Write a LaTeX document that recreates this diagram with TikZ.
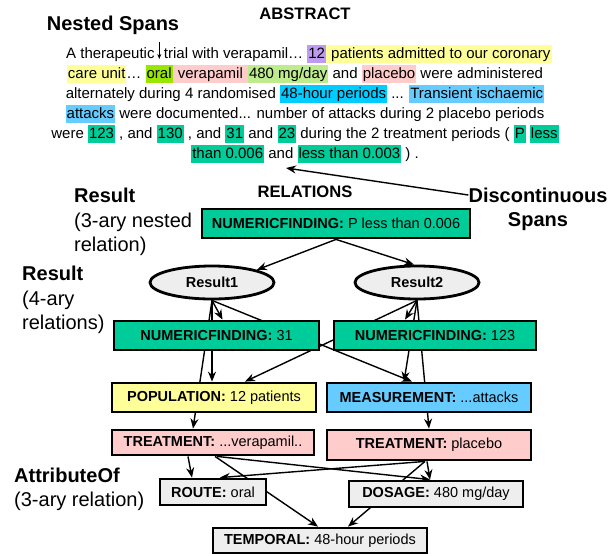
\documentclass[tikz,border=0pt]{standalone}
\usepackage{fontspec}
\setmainfont{Liberation Sans}
\usetikzlibrary{arrows.meta,calc,positioning,shapes.geometric,backgrounds}

\definecolor{hlpurple}{RGB}{190,155,240}
\definecolor{hlyellow}{RGB}{255,255,153}
\definecolor{hllime}{RGB}{153,230,0}
\definecolor{hlpink}{RGB}{255,204,204}
\definecolor{hlgreen}{RGB}{190,235,140}
\definecolor{hlcyan}{RGB}{0,204,255}
\definecolor{hlblue}{RGB}{102,204,255}
\definecolor{hlteal}{RGB}{0,204,153}
\definecolor{boxgray}{RGB}{238,238,238}

\newcommand{\hlspan}[2]{{\setlength{\fboxsep}{0pt}\colorbox{#1}{\hspace{1pt}\rule[-4.5pt]{0pt}{18pt}#2\hspace{1pt}}}}

\begin{document}
\begin{tikzpicture}[x=1pt,y=-1pt,>={Stealth[length=10pt,width=8pt]},
  abstxt/.style={inner sep=0pt,text height=13.5pt,text depth=4.5pt,font=\fontsize{15}{18}\selectfont},
  headlbl/.style={inner sep=0pt,font=\fontsize{16.6}{20}\selectfont\bfseries},
  spanlbl/.style={inner sep=0pt,font=\fontsize{20}{24}\selectfont\bfseries},
  sidelbl/.style={inner sep=0pt,align=left,font=\fontsize{20}{24.5}\selectfont},
  argbox/.style={draw,line width=2.8pt,inner sep=0pt,font=\fontsize{14.5}{17}\selectfont},
  relell/.style={draw,ellipse,line width=2.8pt,fill=boxgray,inner sep=0pt,minimum width=124pt,minimum height=33pt,font=\fontsize{14.5}{17}\selectfont\bfseries},
  link/.style={->,line width=1.4pt}]

\useasboundingbox (0,0) rectangle (615,555);

\node[headlbl] (abstract) at (305,14) {ABSTRACT};
\node[spanlbl] (nested) at (113,25) {Nested Spans};
\node[abstxt,anchor=west] (abs1a) at (66,54) {A therapeutic};
\node[abstxt,right=9pt of abs1a] (abs1b) {trial with verapamil… \hlspan{hlpurple}{12}\hlspan{hlyellow}{ patients admitted to our coronary}};
\node[abstxt] (abs2) at (305,74) {\hlspan{hlyellow}{care unit}… \hlspan{hllime}{oral}\hlspan{hlpink}{ verapamil }\hlspan{hlgreen}{480 mg/day} and \hlspan{hlpink}{placebo} were administered};
\node[abstxt] (abs3) at (305,94) {alternately during 4 randomised \hlspan{hlcyan}{48-hour periods} ... \hlspan{hlblue}{Transient ischaemic}};
\node[abstxt] (abs4) at (305,114) {\hlspan{hlblue}{attacks} were documented... number of attacks during 2 placebo periods};
\node[abstxt] (abs5) at (305,134) {were \hlspan{hlteal}{123} , and \hlspan{hlteal}{130} , and \hlspan{hlteal}{31} and \hlspan{hlteal}{23} during the 2 treatment periods ( \hlspan{hlteal}{P} \hlspan{hlteal}{less}};
\node[abstxt] (abs6) at (305,154) {\hlspan{hlteal}{than 0.006} and \hlspan{hlteal}{less than 0.003} ) .};

\path (abs1a.east) -- (abs1b.west) coordinate[pos=.5] (nestmid);
\coordinate (nesttop) at ([yshift=12pt]nestmid);
\coordinate (nesttip) at ([yshift=-5pt]nestmid);
\coordinate (disctip) at (286,168);

\node[headlbl] (relations) at (305,192) {RELATIONS};
\node[spanlbl] (disc1) at (538,195) {Discontinuous};
\node[spanlbl] (disc2) at (538,222) {Spans};

\node[sidelbl,anchor=west] (lblnested) at (74,222) {\textbf{Result}\\(3-ary nested\\relation)};
\node[sidelbl,anchor=west] (lblresult) at (22,300) {\textbf{Result}\\(4-ary\\relations)};
\node[sidelbl,anchor=west] (lblattr) at (14,489.5) {\textbf{AttributeOf}\\(3-ary relation)};

\node[argbox,fill=hlteal,minimum width=268pt,minimum height=29pt] (nftop) at (336,223.5) {\textbf{NUMERICFINDING:} P less than 0.006};
\node[relell] (res1) at (212,282.5) {Result1};
\node[relell] (res2) at (417,282.5) {Result2};
\node[argbox,fill=hlteal,minimum width=205pt,minimum height=29pt] (nf31) at (216.5,335.5) {\textbf{NUMERICFINDING:} 31};
\node[argbox,fill=hlteal,minimum width=202pt,minimum height=29pt] (nf123) at (435,335.5) {\textbf{NUMERICFINDING:} 123};
\node[argbox,fill=hlyellow,minimum width=204pt,minimum height=29pt] (pop) at (214,397.5) {\textbf{POPULATION:} 12 patients};
\node[argbox,fill=hlblue,minimum width=204pt,minimum height=29pt] (meas) at (429,397.5) {\textbf{MEASUREMENT:} ...attacks};
\node[argbox,fill=hlpink,minimum width=202pt,minimum height=25pt] (treat1) at (213,442.5) {\textbf{TREATMENT:} ...verapamil..};
\node[argbox,fill=hlpink,minimum width=204pt,minimum height=30pt] (treat2) at (429,445) {\textbf{TREATMENT:} placebo};
\node[argbox,fill=boxgray,minimum width=106pt,minimum height=26pt] (route) at (213,492) {\textbf{ROUTE:} oral};
\node[argbox,fill=boxgray,minimum width=174pt,minimum height=26pt] (dosage) at (436,494) {\textbf{DOSAGE:} 480 mg/day};
\node[argbox,fill=boxgray,minimum width=214pt,minimum height=25pt] (temporal) at (320,540.5) {\textbf{TEMPORAL:} 48-hour periods};

\draw[-{Stealth[length=5pt,width=4pt]},line width=0.8pt] (nesttop) -- (nesttip);
\draw[link] (disc1.west) -- (disctip);

\begin{pgfonlayer}{background}
\fill[white] (0,0) rectangle (615,555);
\draw[link] (nftop.south) -- (res1.north east);
\draw[link] (nftop.south) -- ([xshift=-3pt]res2.north);
\draw[link] (res1.south) -- ([xshift=6pt]nf31.north);
\draw[link] (res1.south) -- ([xshift=-2pt]pop.north);
\draw[link] (res1.south) -- ([xshift=-20pt]treat1.north);
\draw[link] (res1.south) -- ([xshift=-17pt]meas.north);
\draw[link] (res2.south) -- ([xshift=-30pt]nf123.north);
\draw[link] (res2.south) -- ([xshift=31pt]pop.north);
\draw[link] (res2.south) -- ([xshift=-25pt]meas.north);
\draw[link] (res2.south) -- (treat2.north);
\draw[link] ([xshift=-25pt]treat1.south) -- ([xshift=-21pt]route.north);
\draw[link] ([xshift=2pt]treat1.south) -- ([xshift=-2pt]temporal.north);
\draw[link] ([xshift=4pt]treat1.south) -- ([xshift=-6pt]dosage.north);
\draw[link] ([xshift=-4pt]treat2.south) -- ([xshift=7pt]route.north);
\draw[link] ([xshift=-2pt]treat2.south) -- ([xshift=-6pt]dosage.north);
\draw[link] ([xshift=-4pt]treat2.south) -- ([xshift=28pt]temporal.north);
\end{pgfonlayer}

\end{tikzpicture}
\end{document}
